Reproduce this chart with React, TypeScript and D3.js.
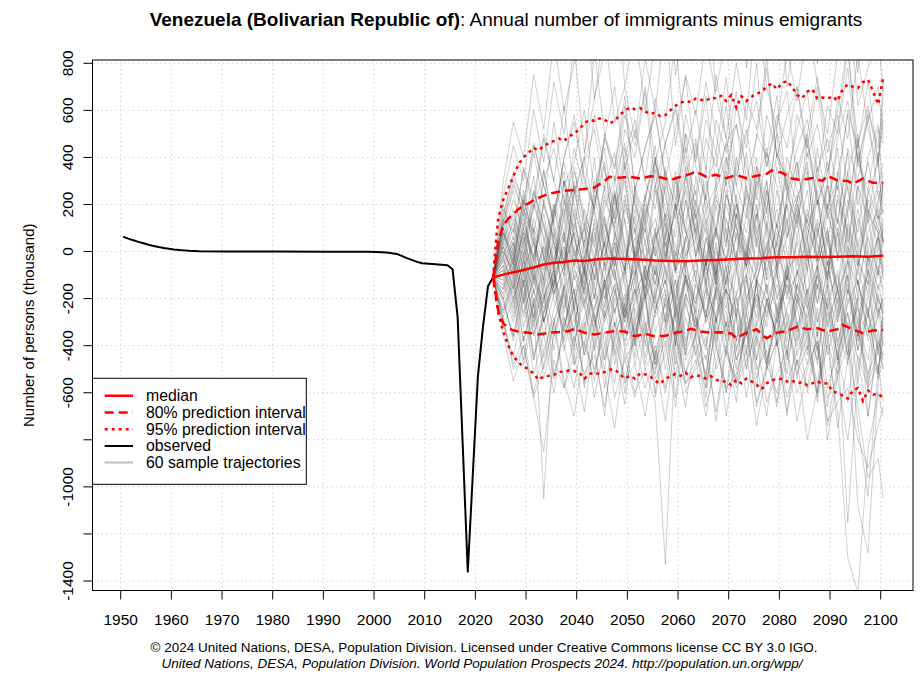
import React from 'react';
import * as d3 from 'd3';

const W = 920;
const H = 677;

const xTicks = [1950, 1960, 1970, 1980, 1990, 2000, 2010, 2020, 2030, 2040, 2050, 2060, 2070, 2080, 2090, 2100];
const yTicks = [-1400, -1200, -1000, -800, -600, -400, -200, 0, 200, 400, 600, 800];
const yTickLabels = [800, 600, 400, 200, 0, -200, -400, -600, -1000, -1400];

const observed: [number, number][] = [
  [1950.5, 63], [1951.5, 55], [1952.5, 48], [1953.5, 41], [1954.5, 35], [1955.5, 29], [1956.5, 24], [1957.5, 19],
  [1958.5, 15], [1959.5, 12], [1960.5, 9], [1961.5, 7], [1962.5, 5], [1963.5, 3], [1964.5, 2], [1965.5, 1],
  [1970.5, 0], [1980.5, 0], [1990.5, -1], [1995.5, -1], [1998.5, -1], [2000.5, -2], [2002.5, -4], [2004.5, -10],
  [2006.5, -28], [2008.5, -44], [2009.5, -50], [2011.5, -53], [2014.5, -58], [2015.5, -75], [2016.5, -280],
  [2017.5, -820], [2018.5, -1360], [2019.5, -945], [2020.5, -530], [2021.5, -320], [2022.5, -146], [2023.5, -110],
];

const median: [number, number][] = [
  [2023.5, -110], [2025.5, -98], [2027.5, -88], [2029.5, -78], [2031.5, -68], [2033.5, -55], [2035.5, -48],
  [2037.5, -44], [2039.5, -38], [2041.5, -40], [2043.5, -34], [2046.5, -30], [2049.5, -32], [2052.5, -34],
  [2055.5, -38], [2058.5, -40], [2061.5, -41], [2064.5, -38], [2067.5, -36], [2070.5, -33], [2073.5, -30],
  [2076.5, -28], [2079.5, -24], [2082.5, -24], [2085.5, -22], [2088.5, -23], [2091.5, -22], [2094.5, -20],
  [2097.5, -22], [2100.5, -18],
];

const upper80: [number, number][] = [
  [2023.5, -110], [2024.5, 40], [2025.5, 110], [2026.5, 140], [2027.5, 160], [2028.5, 180], [2029.5, 195],
  [2030.5, 205], [2031.5, 218], [2032.5, 228], [2033.5, 238], [2034.5, 245], [2035.5, 250], [2037.5, 258],
  [2039.5, 262], [2041.5, 266], [2043.5, 272], [2045.5, 300], [2046.5, 318], [2048.5, 314], [2050.5, 318],
  [2052.5, 310], [2054.5, 320], [2056.5, 316], [2058.5, 304], [2060.5, 318], [2062.5, 330], [2063.5, 340],
  [2065.5, 318], [2067.5, 326], [2069.5, 312], [2071.5, 325], [2073.5, 312], [2075.5, 322], [2077.5, 330],
  [2078.5, 345], [2080.5, 335], [2082.5, 310], [2084.5, 304], [2086.5, 312], [2088.5, 300], [2089.5, 322],
  [2091.5, 302], [2093.5, 300], [2094.5, 288], [2096.5, 310], [2098.5, 292], [2100.5, 290],
];

const lower80: [number, number][] = [
  [2023.5, -110], [2024.5, -250], [2025.5, -305], [2026.5, -325], [2027.5, -335], [2028.5, -340], [2030.5, -345],
  [2032.5, -352], [2034.5, -345], [2036.5, -342], [2038.5, -338], [2039.5, -328], [2041.5, -345], [2043.5, -352],
  [2045.5, -345], [2047.5, -338], [2049.5, -340], [2051.5, -360], [2053.5, -350], [2055.5, -360], [2057.5, -358],
  [2059.5, -345], [2061.5, -338], [2062.5, -328], [2064.5, -340], [2066.5, -345], [2068.5, -343], [2070.5, -348],
  [2071.5, -368], [2073.5, -345], [2075.5, -330], [2076.5, -352], [2077.5, -368], [2079.5, -345], [2081.5, -338],
  [2083.5, -320], [2085.5, -330], [2087.5, -326], [2089.5, -340], [2091.5, -330], [2092.5, -312], [2094.5, -330],
  [2096.5, -347], [2098.5, -335], [2100.5, -333],
];

const upper95: [number, number][] = [
  [2023.5, -110], [2024.0, 30], [2024.5, 140], [2025.5, 220], [2026.5, 270], [2027.5, 320], [2028.5, 370],
  [2029.5, 400], [2030.5, 420], [2031.5, 440], [2032.5, 430], [2033.5, 450], [2034.5, 460], [2035.5, 470],
  [2036.5, 480], [2037.5, 470], [2038.5, 490], [2039.5, 500], [2040.5, 520], [2041.5, 545], [2042.5, 560],
  [2043.5, 555], [2044.5, 566], [2045.5, 560], [2046.5, 545], [2047.5, 555], [2048.5, 580], [2049.5, 600],
  [2050.5, 612], [2051.5, 605], [2052.5, 610], [2053.5, 595], [2054.5, 585], [2055.5, 590], [2056.5, 575],
  [2057.5, 580], [2058.5, 600], [2059.5, 620], [2060.5, 632], [2061.5, 640], [2062.5, 635], [2063.5, 650],
  [2064.5, 645], [2065.5, 640], [2066.5, 655], [2067.5, 650], [2068.5, 662], [2069.5, 640], [2070.5, 665],
  [2071.5, 612], [2072.5, 660], [2073.5, 640], [2074.5, 658], [2075.5, 670], [2076.5, 680], [2077.5, 700],
  [2078.5, 715], [2079.5, 690], [2080.5, 715], [2081.5, 725], [2082.5, 700], [2083.5, 665], [2084.5, 652],
  [2085.5, 680], [2086.5, 690], [2087.5, 650], [2088.5, 655], [2089.5, 650], [2090.5, 660], [2091.5, 640],
  [2092.5, 690], [2093.5, 710], [2094.5, 700], [2095.5, 695], [2096.5, 720], [2097.5, 730], [2098.5, 680],
  [2099.5, 625], [2100.5, 740],
];

const lower95: [number, number][] = [
  [2023.5, -110], [2024.0, -190], [2024.5, -260], [2025.5, -340], [2026.5, -400], [2027.5, -445], [2028.5, -470],
  [2029.5, -490], [2030.5, -500], [2031.5, -520], [2032.5, -545], [2033.5, -530], [2034.5, -528], [2035.5, -525],
  [2036.5, -510], [2037.5, -512], [2038.5, -505], [2039.5, -508], [2040.5, -515], [2041.5, -540], [2042.5, -520],
  [2043.5, -515], [2044.5, -520], [2045.5, -512], [2046.5, -502], [2047.5, -500], [2048.5, -520], [2049.5, -540],
  [2050.5, -528], [2051.5, -540], [2052.5, -518], [2053.5, -522], [2054.5, -530], [2055.5, -550], [2056.5, -562],
  [2057.5, -540], [2058.5, -530], [2059.5, -520], [2060.5, -528], [2061.5, -515], [2062.5, -535], [2063.5, -525],
  [2064.5, -530], [2065.5, -540], [2066.5, -530], [2067.5, -545], [2068.5, -550], [2069.5, -552], [2070.5, -568],
  [2071.5, -545], [2072.5, -560], [2073.5, -540], [2074.5, -552], [2075.5, -565], [2076.5, -585], [2077.5, -560],
  [2078.5, -548], [2079.5, -540], [2080.5, -542], [2081.5, -552], [2082.5, -548], [2083.5, -560], [2084.5, -555],
  [2085.5, -568], [2086.5, -560], [2087.5, -552], [2088.5, -562], [2089.5, -560], [2090.5, -595], [2091.5, -600],
  [2092.5, -612], [2093.5, -625], [2094.5, -590], [2095.5, -580], [2096.5, -635], [2097.5, -590], [2098.5, -608],
  [2099.5, -604], [2100.5, -622],
];

// sample trajectory years (every 2 years from 2023.5, plus 2100.5)
const sampleYears: number[] = [
  2023.5, 2025.5, 2027.5, 2029.5, 2031.5, 2033.5, 2035.5, 2037.5, 2039.5, 2041.5,
  2043.5, 2045.5, 2047.5, 2049.5, 2051.5, 2053.5, 2055.5, 2057.5, 2059.5, 2061.5,
  2063.5, 2065.5, 2067.5, 2069.5, 2071.5, 2073.5, 2075.5, 2077.5, 2079.5, 2081.5,
  2083.5, 2085.5, 2087.5, 2089.5, 2091.5, 2093.5, 2095.5, 2097.5, 2099.5, 2100.5,
];

// 60 sample trajectories, in tens of thousands
const samples10k: number[][] = [
  [-11,-2,14,-8,22,5,-15,30,-4,12,-20,8,25,-6,15,-12,3,28,-9,6,18,-14,10,-3,24,-7,11,-18,5,20,-10,14,-5,9,-16,22,2,-8,15,4],
  [-11,-18,-30,-12,-35,-20,-8,-28,-40,-15,-25,-5,-32,-18,-45,-10,-22,-30,-6,-38,-14,-26,-8,-34,-20,-42,-12,-28,-4,-30,-18,-36,-10,-24,-40,-16,-30,-8,-26,-20],
  [-11,8,-5,20,-12,35,10,-8,26,4,40,-2,18,32,-6,22,45,12,-4,28,8,36,-10,24,14,42,2,30,-8,20,38,6,26,-12,34,16,48,0,22,30],
  [-11,-25,-10,-38,-22,-105,-30,-15,-42,-8,-28,-50,-20,-35,-12,-45,-25,-8,-40,-18,-30,-55,-15,-38,-22,-10,-46,-28,-14,-35,-24,-42,-8,-30,-52,-20,-36,-12,-44,-28],
  [-11,12,30,15,42,20,55,28,38,60,25,48,70,35,52,30,65,45,22,58,40,72,50,28,62,44,80,36,55,68,30,50,74,42,60,88,38,56,70,48],
  [-11,-6,4,-15,10,-20,-2,8,-25,5,-12,15,-8,-30,2,12,-18,-4,20,-10,-22,6,-14,10,-28,0,16,-12,-6,14,-20,4,-16,8,-26,12,-2,-18,6,-10],
  [-11,-30,-45,-20,-52,-35,-60,-28,-48,-38,-55,-25,-42,-65,-30,-50,-40,-58,-22,-46,-36,-62,-28,-44,-54,-32,-48,-70,-38,-26,-52,-40,-60,-34,-75,-46,-30,-56,-42,-50],
  [-11,4,18,-2,25,12,-6,30,15,-10,22,38,5,-8,28,14,35,-4,20,10,-12,26,42,8,-6,32,18,-2,36,12,24,-8,30,16,44,4,28,-6,20,34],
  [-11,-14,-2,-22,6,-30,-10,2,-18,-35,-4,-24,8,-15,-40,-6,-20,4,-28,-12,-34,-2,-18,-44,-8,-26,6,-16,-38,-10,-22,0,-30,-14,-46,-4,-24,-36,-8,-18],
  [-11,20,5,35,18,48,30,62,25,40,85,50,30,58,45,70,38,55,90,42,60,35,75,48,28,65,52,82,40,58,70,45,30,62,50,78,36,60,44,66],
  [-11,-8,-20,-4,-28,-12,-36,-16,-6,-24,-40,-14,-2,-30,-18,-8,-34,-22,-48,-10,-26,-4,-38,-16,-28,-50,-12,-20,-36,-6,-30,-44,-14,-24,-8,-40,-18,-32,-54,-22],
  [-11,2,-12,10,-4,16,-8,22,0,-14,12,-6,26,4,-18,14,-10,8,30,-2,10,-16,20,-8,6,24,-12,2,18,-6,14,-20,8,28,-4,16,-14,6,-10,12],
  [-11,-35,-55,-40,-62,-48,-30,-58,-44,-68,-36,-52,-75,-42,-60,-50,-64,-133,-38,-56,-46,-70,-40,-58,-52,-34,-66,-48,-60,-42,-72,-50,-38,-62,-54,-80,-44,-58,-48,-64],
  [-11,16,32,20,45,28,15,40,55,30,18,48,35,62,26,44,58,32,20,50,38,66,28,46,54,36,22,58,42,30,52,68,34,48,26,60,44,72,38,56],
  [-11,-4,6,-10,14,-2,-18,8,-6,18,2,-12,24,-4,10,-20,6,16,-8,22,-2,12,-14,4,20,-10,8,-4,26,0,-16,10,22,-6,14,-2,-18,8,18,4],
  [-11,-20,-8,-32,-16,-45,-24,-10,-38,-20,-52,-28,-14,-42,-30,-18,-48,-34,-12,-40,-24,-58,-30,-16,-46,-36,-20,-50,-28,-14,-44,-32,-60,-22,-38,-115,-50,-26,-42,-34],
  [-11,10,-6,24,2,-12,18,34,6,-8,28,12,-4,36,20,4,-10,30,14,44,8,-6,26,40,10,-2,32,18,50,6,22,36,-4,28,12,42,2,24,38,16],
  [-11,-12,-26,-8,-30,-18,-42,-14,-34,-6,-28,-46,-16,-38,-22,-10,-44,-26,-54,-18,-32,-12,-40,-60,-24,-36,-14,-48,-28,-52,-20,-38,-62,-30,-16,-46,-34,-58,-24,-40],
  [-11,6,22,10,32,-4,16,38,20,2,26,44,12,30,-2,22,40,14,34,8,46,18,28,4,36,52,24,10,42,30,14,48,20,34,58,26,8,40,54,22],
  [-11,-2,-16,4,-22,-8,10,-26,-4,-14,8,-20,-6,14,-30,-12,2,-18,-36,-4,-24,6,-14,-32,0,-20,-8,12,-28,-10,-38,-2,-22,4,-16,-34,-6,-26,2,-12],
  [-11,-30,-48,-36,-60,-42,-28,-55,-70,-40,-50,-34,-62,-46,-38,-58,-44,-72,-36,-52,-40,-66,-48,-30,-56,-42,-74,-50,-38,-62,-46,-80,-58,-40,-68,-130,-145,-84,-60,-70],
  [-11,24,45,30,60,38,72,50,88,42,65,95,55,70,48,82,60,100,45,75,58,90,66,48,80,56,105,70,52,86,64,96,72,50,84,110,62,78,92,68],
  [-11,0,-10,8,-18,2,-6,14,-12,-2,10,-16,4,-8,18,-4,-14,6,-22,0,12,-10,2,-18,8,-6,16,-12,4,-20,6,-8,14,-2,-16,10,-4,-14,8,-6],
  [-11,-16,-4,-28,-10,-36,-18,-6,-30,-14,-42,-22,-8,-34,-16,-48,-26,-12,-38,-20,-44,-28,-10,-36,-18,-50,-30,-14,-40,-24,-8,-34,-46,-20,-30,-12,-42,-26,-52,-36],
  [-11,14,2,26,10,-2,20,8,34,16,4,28,42,12,-4,24,38,18,6,32,14,-6,30,46,20,8,36,22,2,40,26,12,44,18,-2,34,50,16,28,38],
  [-11,-10,-24,-2,-32,-14,-6,-38,-20,-8,-30,-12,-44,-22,-4,-34,-18,-50,-26,-10,-36,-16,-28,-6,-42,-24,-14,-46,-30,-8,-34,-20,-48,-12,-38,-26,-56,-18,-40,-28],
  [-11,8,-2,16,-8,22,4,-10,28,10,-4,18,32,0,-12,20,8,36,-6,14,26,-2,10,30,-8,16,40,6,-10,24,12,34,-4,20,8,-12,28,14,42,2],
  [-11,-28,-14,-46,-22,-54,-36,-18,-48,-30,-62,-40,-24,-56,-34,-20,-50,-38,-66,-28,-44,-58,-32,-70,-42,-26,-54,-36,-64,-46,-30,-60,-40,-74,-48,-34,-108,-128,-56,-42],
  [-11,18,8,36,22,50,30,14,44,26,58,34,20,52,40,68,28,46,62,38,24,56,42,74,32,50,64,36,58,44,70,40,54,30,66,48,84,52,36,60],
  [-11,-6,-18,0,-24,-10,4,-20,-34,-2,-16,-28,2,-12,-38,-6,-22,8,-30,-14,-4,-26,-40,-10,-18,2,-32,-14,-24,-46,-8,-20,-36,-4,-28,-14,-42,-2,-22,-34],
  [-11,4,-8,12,-2,20,6,-6,16,-10,24,2,-12,18,8,-4,28,10,-8,22,0,14,-14,26,6,-2,20,-10,12,30,-4,16,4,-12,24,8,-6,18,2,10],
  [-11,-22,-36,-14,-44,-26,-12,-40,-58,-32,-18,-46,-30,-60,-24,-38,-52,-20,-44,-66,-34,-16,-50,-40,-28,-62,-36,-48,-22,-56,-42,-30,-64,-38,-54,-26,-46,-70,-34,-50],
  [-11,30,55,40,75,52,90,60,80,110,65,85,120,70,95,60,88,130,75,100,82,115,68,92,140,78,105,86,125,70,98,118,80,135,90,108,76,122,95,112],
  [-11,-12,2,-20,-6,-30,-14,6,-24,-10,-36,-4,-18,-28,-8,-40,-16,0,-26,-12,-32,-20,4,-22,-38,-10,-28,-2,-18,-44,-14,-30,-6,-24,-48,-16,-36,-8,-20,-26],
  [-11,10,26,4,18,34,12,-4,24,40,16,2,30,46,20,8,38,24,-2,32,48,22,10,36,54,26,14,42,28,6,34,50,20,38,12,44,30,58,24,16],
  [-11,-3,-14,6,-10,-22,2,-16,10,-6,-20,4,-12,-28,0,-18,8,-8,-24,-2,6,-14,-30,-4,12,-20,-8,2,-26,-12,4,-18,-6,10,-22,-10,-34,0,-16,-8],
  [-11,-32,-20,-48,-28,-16,-52,-36,-24,-58,-40,-70,-30,-46,-62,-34,-54,-44,-26,-60,-48,-36,-72,-42,-56,-30,-64,-50,-38,-68,-46,-58,-34,-80,-52,-40,-66,-96,-88,-105],
  [-11,12,28,18,8,30,44,22,10,38,52,26,14,40,56,30,18,46,60,34,20,48,36,62,28,14,50,40,66,24,44,56,32,18,48,64,38,26,52,46],
  [-11,-8,4,-14,-2,12,-18,-6,8,-22,-4,14,-10,-26,2,-16,10,-8,-20,6,-12,-28,0,-14,16,-6,-24,-2,8,-18,-10,6,-22,-4,-30,2,-14,-26,-2,-8],
  [-11,-28,-50,-40,-62,-85,-46,-58,-36,-52,-44,-66,-38,-54,-48,-70,-42,-60,-34,-56,-50,-44,-68,-40,-58,-46,-36,-64,-52,-42,-60,-48,-38,-72,-64,-58,-80,-92,-74,-66],
  [-11,-4,-16,2,-12,-24,-6,8,-18,-2,-14,4,-26,-10,6,-20,-4,-30,0,-12,-22,-6,10,-16,-28,-2,-12,4,-20,-8,-2,-24,-10,6,-18,-4,-14,-28,-6,-16],
  [-11,6,-6,14,-4,20,4,-10,12,-2,18,-8,6,24,-4,10,-14,16,2,-6,20,8,-10,14,-2,26,4,-8,12,-12,16,0,22,-6,10,-4,18,-10,6,14],
  [-11,-14,-28,-10,-36,-20,-8,-32,-16,-44,-24,-12,-38,-20,-6,-30,-46,-18,-34,-10,-28,-40,-16,-26,-50,-12,-36,-22,-8,-42,-20,-32,-14,-44,-26,-10,-38,-24,-52,-30],
  [-11,2,12,-4,20,6,-8,16,28,0,-6,22,10,-10,26,4,14,-4,32,8,-2,18,-12,24,10,-6,30,12,-4,20,6,26,-8,16,2,34,-2,22,10,4],
  [-11,-18,-6,-26,-12,2,-20,-34,-8,-16,-2,-28,-14,-40,-20,-6,-24,-12,-36,-18,-8,-30,-16,-2,-26,-44,-12,-22,-34,-6,-18,-28,-10,-38,-20,-4,-30,-46,-14,-24],
  [-11,8,-4,18,4,-8,14,24,-2,10,30,6,-6,20,12,-10,26,2,16,36,4,-8,22,14,-4,28,8,18,-6,24,38,10,-2,20,30,6,-10,26,14,18],
  [-11,-10,0,-18,-4,-26,-12,2,-22,-6,-32,-14,-2,-24,-10,4,-28,-16,-40,-8,-20,-4,-30,-12,-2,-34,-18,-26,-8,-38,-14,-24,-6,-32,-16,-44,-20,-10,-28,-18],
  [-11,-2,10,-8,4,-14,8,-4,18,2,-10,12,-6,22,-2,-16,6,14,-8,4,16,-12,8,-4,20,0,-14,10,-2,12,-6,18,2,-10,8,-18,14,-4,6,-8],
  [-11,-26,-12,-38,-20,-50,-30,-16,-44,-28,-14,-40,-56,-24,-34,-18,-48,-30,-62,-22,-38,-52,-26,-16,-46,-34,-58,-20,-40,-30,-54,-24,-42,-66,-32,-48,-20,-70,-38,-44],
  [-11,12,0,22,8,-6,18,4,30,14,-2,24,10,38,-4,16,28,6,20,-8,32,12,24,2,40,18,-6,26,10,34,20,4,36,14,28,-2,42,18,8,30],
  [-11,-6,-20,-8,-28,-2,-16,-34,-10,-24,-4,-30,-18,-8,-36,-14,-26,-6,-22,-42,-12,-28,-4,-32,-18,-10,-40,-20,-30,-14,-24,-8,-36,-16,-46,-22,-12,-38,-28,-20],
  [-11,4,16,2,26,10,-4,20,36,12,2,28,16,44,8,24,-2,34,18,50,14,30,6,40,22,-4,36,16,52,26,10,42,24,4,32,58,20,38,14,28],
  [-11,-16,-2,-22,-8,-30,-14,0,-26,-40,-10,-20,4,-28,-16,-36,-6,-24,-12,-44,-2,-30,-18,-8,-38,-22,-12,-48,-26,-4,-32,-16,-42,-20,-10,-34,-24,-54,-18,-28],
  [-11,0,-8,10,-14,4,20,-6,8,-18,14,-4,24,2,-10,18,-2,12,-20,6,22,-6,10,-14,16,4,-8,26,0,-12,20,-2,12,-16,8,28,-6,14,-10,6],
  [-11,-20,-36,-12,-46,-26,-8,-42,-22,-56,-30,-14,-48,-24,-40,-16,-60,-32,-20,-44,-28,-54,-18,-38,-64,-26,-46,-22,-36,-70,-32,-48,-24,-58,-42,-30,-74,-104,-50,-38],
  [-11,14,34,20,46,28,12,40,58,32,18,50,36,66,26,44,60,30,52,74,36,22,56,42,68,30,48,78,40,26,58,44,70,34,52,86,46,62,38,72],
  [-11,-8,-22,-4,-16,-30,-10,-24,2,-18,-34,-12,-26,-6,-38,-20,-8,-30,-16,-4,-28,-42,-14,-24,-6,-36,-18,-32,-10,-26,-40,-16,-30,-8,-22,-44,-12,-34,-20,-26],
  [-11,2,-10,8,-2,-16,6,18,-6,10,-12,4,16,-8,24,-4,8,-14,12,26,-2,10,-10,20,4,-6,14,30,-8,6,18,-4,10,-12,22,2,-6,16,8,-2],
  [-11,-20,-38,-18,-46,-28,-54,-32,-16,-44,-26,-58,-36,-22,-48,-30,-62,-40,-24,-52,-34,-46,-28,-60,-38,-20,-50,-42,-66,-30,-48,-36,-56,-26,-44,-64,-34,-52,-40,-46],
  [-11,10,-2,22,6,-12,16,30,4,-6,20,36,8,-4,26,12,40,-2,18,32,6,24,-8,34,14,2,28,44,10,-4,22,38,6,30,-2,18,46,12,26,20],
];

const legendItems = [
  { label: 'median', color: '#ff0000', width: 2.5, dash: '' },
  { label: '80% prediction interval', color: '#ff0000', width: 2.5, dash: '9,5' },
  { label: '95% prediction interval', color: '#ff0000', width: 2.5, dash: '3,4' },
  { label: 'observed', color: '#000000', width: 2, dash: '' },
  { label: '60 sample trajectories', color: '#bebebe', width: 2, dash: '' },
];

const FONT = '"Liberation Sans", Arial, Helvetica, sans-serif';

export default function App() {
  const left = 92.5, right = 913, top = 60, bottom = 590.5;
  const x = d3.scaleLinear().domain([1950, 2100]).range([120.7, 880.7]);
  const y = d3.scaleLinear().domain([-1400, 800]).range([581, 63.3]);
  const line = d3.line<[number, number]>().x(d => x(d[0])).y(d => y(d[1]));

  const samplePaths = samples10k.map(row =>
    line(row.map((v, i) => [sampleYears[i], v * 10] as [number, number])) || ''
  );

  const lgX = left, lgY = 378.3, lgW = 213.8, lgH = 106;

  return (
    <svg width={W} height={H} style={{ position: 'absolute', left: 0, top: 0, background: '#fff' }}
      fontFamily={FONT}>
      <defs>
        <clipPath id="plotClip">
          <rect x={left} y={top} width={right - left} height={bottom - top} />
        </clipPath>
        <clipPath id="legendClip">
          <rect x={lgX} y={lgY} width={lgW} height={lgH} />
        </clipPath>
      </defs>
      <rect x={0} y={0} width={W} height={H} fill="#fff" />

      {/* grid */}
      <g stroke="#d3d3d3" strokeWidth={1} strokeDasharray="1.5,3">
        {xTicks.map(t => (
          <line key={'gx' + t} x1={x(t)} x2={x(t)} y1={top} y2={bottom} />
        ))}
        {yTicks.map(t => (
          <line key={'gy' + t} x1={left} x2={right} y1={y(t)} y2={y(t)} />
        ))}
      </g>

      <g clipPath="url(#plotClip)" fill="none">
        {samplePaths.map((p, i) => (
          <path key={'s' + i} d={p} stroke="rgba(60,60,60,0.27)" strokeWidth={0.9} />
        ))}
        <path d={line(observed) || ''} stroke="#000" strokeWidth={2} strokeLinejoin="round" />
        <path d={line(upper95) || ''} stroke="#ff0000" strokeWidth={2.5} strokeDasharray="3,4" />
        <path d={line(lower95) || ''} stroke="#ff0000" strokeWidth={2.5} strokeDasharray="3,4" />
        <path d={line(upper80) || ''} stroke="#ff0000" strokeWidth={2.5} strokeDasharray="9,5" />
        <path d={line(lower80) || ''} stroke="#ff0000" strokeWidth={2.5} strokeDasharray="9,5" />
        <path d={line(median) || ''} stroke="#ff0000" strokeWidth={2.5} />
      </g>

      {/* box */}
      <rect x={left} y={top} width={right - left} height={bottom - top} fill="none" stroke="#000" strokeWidth={1} />

      {/* x axis */}
      <g>
        {xTicks.map(t => (
          <g key={'xt' + t}>
            <line x1={x(t)} x2={x(t)} y1={bottom} y2={bottom + 9} stroke="#000" />
            <text x={x(t)} y={625} textAnchor="middle" fontSize={15.5} fill="#000">{t}</text>
          </g>
        ))}
      </g>

      {/* y axis */}
      <g>
        {yTicks.map(t => (
          <line key={'yt' + t} x1={left - 9} x2={left} y1={y(t)} y2={y(t)} stroke="#000" />
        ))}
        {yTickLabels.map(t => (
          <text key={'yl' + t} transform={`translate(73,${y(t)}) rotate(-90)`} textAnchor="middle"
            fontSize={15.5} fill="#000">{t}</text>
        ))}
      </g>

      <text transform={`translate(34,${(top + bottom) / 2}) rotate(-90)`} textAnchor="middle" fontSize={15}
        fill="#000">Number of persons (thousand)</text>

      {/* title */}
      <text x={506} y={26} textAnchor="middle" fontSize={19} fill="#000">
        <tspan fontWeight="bold">Venezuela (Bolivarian Republic of)</tspan>
        <tspan>: Annual number of immigrants minus emigrants</tspan>
      </text>

      {/* legend */}
      <rect x={lgX} y={lgY} width={lgW} height={lgH} fill="#fff" stroke="#000" strokeWidth={1} />
      <g clipPath="url(#legendClip)">
        {legendItems.map((it, i) => {
          const yy = 395.8 + i * 16.7;
          return (
            <g key={'lg' + i}>
              <line x1={104.7} x2={133} y1={yy} y2={yy} stroke={it.color} strokeWidth={it.width}
                strokeDasharray={it.dash || undefined} />
              <text x={146} y={yy} dy="0.35em" fontSize={15.8} fill="#000">{it.label}</text>
            </g>
          );
        })}
      </g>

      {/* footer */}
      <text x={484} y={652} textAnchor="middle" fontSize={13.5} fill="#000">
        © 2024 United Nations, DESA, Population Division. Licensed under Creative Commons license CC BY 3.0 IGO.
      </text>
      <text x={482} y={668} textAnchor="middle" fontSize={13.5} fontStyle="italic" fill="#000">
        United Nations, DESA, Population Division. World Population Prospects 2024. http://population.un.org/wpp/
      </text>
    </svg>
  );
}
